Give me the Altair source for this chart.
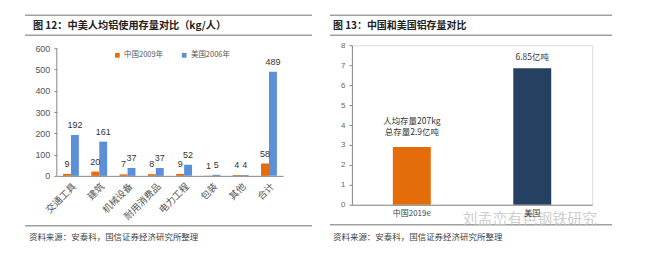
import altair as alt
import pandas as pd

# ---------------- data ----------------
categories = ["交通工具", "建筑", "机械设备", "耐用消费品", "电力工程", "包装", "其他", "合计"]
china_2009 = [9, 20, 7, 8, 9, 1, 4, 58]
us_2006 = [192, 161, 37, 37, 52, 5, 4, 489]
series_names = ["中国2009年", "美国2006年"]
series_colors = ["#E46C0A", "#5B8FD8"]
y1_ticks = [0, 100, 200, 300, 400, 500, 600]

stock_countries = ["中国2019e", "美国"]
stock_values = [2.9, 6.85]
stock_labels = ["人均存量207kg\n总存量2.9亿吨", "6.85亿吨"]
stock_colors = ["#E46C0A", "#254061"]
y2_ticks = [0, 1, 2, 3, 4, 5, 6, 7, 8]

title_left = "图 12：中美人均铝使用存量对比（kg/人）"
title_right = "图 13：中国和美国铝存量对比"
source_text = "资料来源：安泰科，国信证券经济研究所整理"
watermark = "刘孟峦有色钢铁研究"

CJK = "Noto Sans CJK SC"
LAT = "Liberation Sans"
LINE = "#a0a0a0"

rows = []
for c, a, b in zip(categories, china_2009, us_2006):
    rows.append({"category": c, "series": series_names[0], "value": a})
    rows.append({"category": c, "series": series_names[1], "value": b})
df1 = pd.DataFrame(rows)
df2 = pd.DataFrame({"country": stock_countries, "value": stock_values, "label": stock_labels})
one = pd.DataFrame({"k": [0]})

# ---------------- helpers ----------------
def hline(x1, x2, y, w=1.5):
    return alt.Chart(one).mark_rule(color=LINE, strokeWidth=w).encode(
        x=alt.value(x1), x2=alt.value(x2), y=alt.value(y))

def label(x, y, txt, size=8.5, bold=False, color="#333", font=CJK, opacity=1.0):
    return alt.Chart(one).mark_text(
        text=txt, align="left", baseline="middle", font=font, fontSize=size,
        fontWeight="bold" if bold else "normal", color=color, opacity=opacity
    ).encode(x=alt.value(x), y=alt.value(y))

# ---------------- left panel ----------------
W1, H1 = 227, 131
Y1MAX = 600 * H1 / 128
yscale1 = alt.Scale(domain=[0, Y1MAX], nice=False, zero=True)
yaxis1 = alt.Axis(values=y1_ticks, title=None, grid=False, domain=False, tickColor="#888",
                  tickSize=3, labelFont=LAT, labelFontSize=9, labelColor="#555", labelPadding=4,
                  zindex=2)
xenc1 = alt.X("category:N", sort=categories,
              scale=alt.Scale(paddingInner=0.44, paddingOuter=0.22),
              axis=alt.Axis(title=None, labelAngle=-45, labelFont=CJK, labelFontSize=9.5,
                            labelColor="#555", domainColor="#888", ticks=False, labelPadding=5,
                            zindex=2))
xoff1 = alt.XOffset("series:N", sort=series_names, scale=alt.Scale(paddingInner=0, paddingOuter=0))

anchor = alt.Chart(one).mark_rect(color="white").encode(
    x=alt.value(-56), x2=alt.value(593), y=alt.value(-44), y2=alt.value(211))

bars1 = alt.Chart(df1).mark_bar().encode(
    x=xenc1, xOffset=xoff1,
    y=alt.Y("value:Q", scale=yscale1, axis=yaxis1),
    color=alt.Color("series:N", scale=alt.Scale(domain=series_names, range=series_colors),
                    legend=alt.Legend(orient="none", legendX=57, legendY=6, direction="horizontal",
                                      title=None, symbolType="square", symbolSize=22,
                                      symbolStrokeWidth=0, labelFont=CJK, labelFontSize=7.5,
                                      labelColor="#555", columnPadding=17, padding=0,
                                      labelOffset=3, zindex=2)))
text1 = alt.Chart(df1).mark_text(baseline="bottom", dy=-5, font=LAT, fontSize=9, color="#333").encode(
    x=xenc1, xOffset=xoff1,
    y=alt.Y("value:Q", scale=yscale1, axis=yaxis1),
    text=alt.Text("value:Q"))
axisline1 = alt.Chart(pd.DataFrame({"value": [0], "value2": [600]})).mark_rule(
    color="#888", strokeWidth=1).encode(
    x=alt.value(0), y=alt.Y("value:Q", scale=yscale1, axis=yaxis1), y2="value2:Q")

left = alt.layer(
    anchor,
    hline(-32, 256, -30), hline(-32, 256, -10), hline(-32, 256, 181),
    label(-24, -19, title_left, size=10.2, bold=True, color="#222"),
    label(-28, 192, source_text, size=8.5, color="#444"),
    axisline1, bars1, text1,
).properties(width=W1, height=H1)

# ---------------- right panel ----------------
W2, H2 = 241, 160
yscale2 = alt.Scale(domain=[0, 8], nice=False)
yaxis2 = alt.Axis(values=y2_ticks, title=None, grid=False, domainColor="#888", tickColor="#888",
                  tickSize=3, labelFont=LAT, labelFontSize=8, labelColor="#666", labelPadding=4,
                  zindex=2)
xenc2 = alt.X("country:N", sort=stock_countries, scale=alt.Scale(paddingInner=0.685, paddingOuter=0.34),
              axis=alt.Axis(title=None, labelAngle=0, labelFont=CJK, labelFontSize=8,
                            labelColor="#444", domainColor="#888", ticks=False, labelPadding=5,
                            zindex=2))
bars2 = alt.Chart(df2).mark_bar().encode(
    x=xenc2, y=alt.Y("value:Q", scale=yscale2, axis=yaxis2),
    color=alt.Color("country:N", scale=alt.Scale(domain=stock_countries, range=stock_colors), legend=None))
text2a = alt.Chart(df2).transform_filter(
    alt.datum.country == stock_countries[0]
).mark_text(baseline="bottom", dy=-21, lineBreak="\n", lineHeight=11,
            font=CJK, fontSize=8.5, color="#333").encode(
    x=xenc2, y=alt.Y("value:Q", scale=yscale2, axis=yaxis2), text="label:N")
text2b = alt.Chart(df2).transform_filter(
    alt.datum.country == stock_countries[1]
).mark_text(baseline="bottom", dy=-6, lineBreak="\n", lineHeight=11,
            font=CJK, fontSize=8.5, color="#333").encode(
    x=xenc2, y=alt.Y("value:Q", scale=yscale2, axis=yaxis2), text="label:N")

right = alt.layer(
    hline(-22, 261, -30), hline(-22, 261, -10), hline(-22, 261, 180),
    label(-19, -19, title_right, size=10, bold=True, color="#222"),
    label(-19, 192, source_text, size=8.5, color="#444"),
    bars2, text2a, text2b,
    label(111, 174, watermark, size=15, color="#c4c4c4", opacity=0.8),
).properties(width=W2, height=H2)

chart = alt.hconcat(left, right, spacing=69, bounds="flush").resolve_scale(
    color="independent"
).properties(
    padding=0, autosize=alt.AutoSizeParams(type="pad")
).configure_view(stroke=None).configure(background="white")

chart.save("out.html", embed_options={"renderer": "svg", "actions": False})
